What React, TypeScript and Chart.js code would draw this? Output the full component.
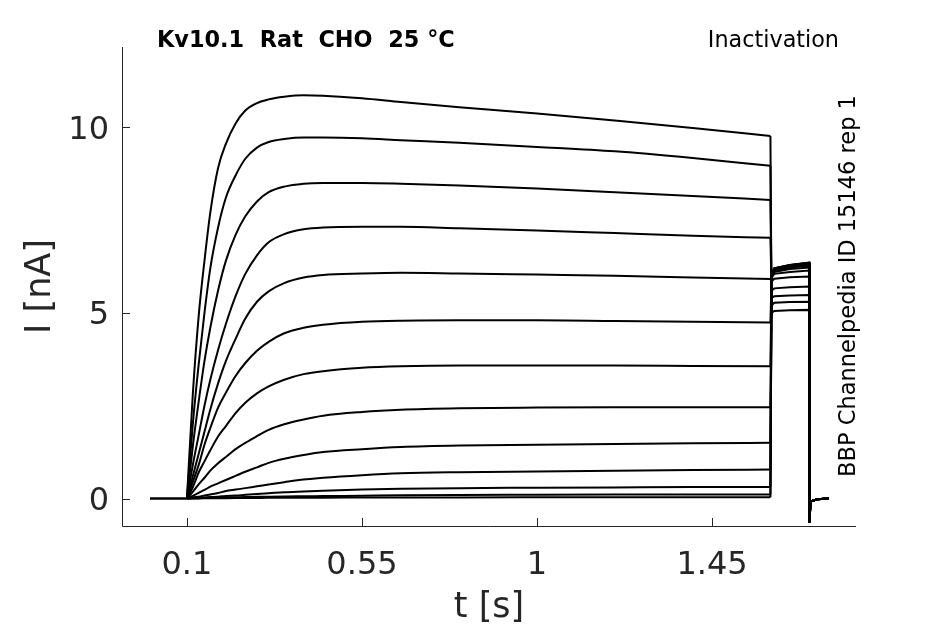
import { useEffect, useRef } from "react";
import { Chart, registerables } from "chart.js";

Chart.register(...registerables);

// holding level before the conditioning step
const holdTimes = [0.005, 0.1];
const holdCurrent = [0, 0];

// conditioning step, one row per sweep (nA)
const pulseTimes = [0.1, 0.115, 0.13, 0.145, 0.16, 0.18, 0.2, 0.225, 0.25, 0.28, 0.31, 0.35, 0.4, 0.45, 0.55, 0.65, 0.8, 1.0, 1.2, 1.4, 1.6];
const pulseCurrents = [
  [0, 2.8, 4.9, 6.4, 7.7, 8.9, 9.55, 10.1, 10.45, 10.65, 10.75, 10.82, 10.86, 10.85, 10.78, 10.68, 10.54, 10.37, 10.18, 9.98, 9.76],
  [0, 2.0, 3.6, 5.0, 6.2, 7.3, 8.1, 8.7, 9.15, 9.45, 9.6, 9.68, 9.72, 9.72, 9.7, 9.65, 9.58, 9.47, 9.35, 9.17, 8.96],
  [0, 1.4, 2.6, 3.7, 4.6, 5.6, 6.4, 7.1, 7.6, 8.0, 8.25, 8.4, 8.48, 8.5, 8.5, 8.48, 8.43, 8.35, 8.25, 8.15, 8.04],
  [0, 0.9, 1.7, 2.5, 3.2, 4.0, 4.7, 5.45, 6.05, 6.55, 6.9, 7.12, 7.25, 7.3, 7.32, 7.32, 7.28, 7.22, 7.15, 7.08, 7.02],
  [0, 0.6, 1.2, 1.8, 2.4, 3.1, 3.7, 4.3, 4.85, 5.3, 5.58, 5.8, 5.95, 6.02, 6.06, 6.08, 6.06, 6.03, 6.0, 5.95, 5.91],
  [0, 0.45, 0.9, 1.45, 1.9, 2.45, 2.85, 3.3, 3.65, 3.98, 4.22, 4.45, 4.6, 4.68, 4.76, 4.79, 4.8, 4.8, 4.78, 4.76, 4.74],
  [0, 0.3, 0.7, 1.0, 1.3, 1.67, 1.95, 2.3, 2.58, 2.83, 3.02, 3.2, 3.35, 3.43, 3.52, 3.56, 3.58, 3.58, 3.58, 3.57, 3.56],
  [0, 0.18, 0.38, 0.56, 0.75, 0.95, 1.12, 1.33, 1.5, 1.68, 1.85, 2.0, 2.13, 2.23, 2.33, 2.39, 2.43, 2.45, 2.46, 2.46, 2.46],
  [0, 0.07, 0.15, 0.23, 0.32, 0.41, 0.5, 0.61, 0.72, 0.84, 0.96, 1.07, 1.17, 1.25, 1.33, 1.39, 1.43, 1.45, 1.47, 1.49, 1.5],
  [0, 0.03, 0.05, 0.08, 0.11, 0.15, 0.2, 0.24, 0.28, 0.33, 0.38, 0.44, 0.51, 0.56, 0.63, 0.68, 0.71, 0.73, 0.75, 0.77, 0.78],
  [0, 0.01, 0.02, 0.03, 0.04, 0.05, 0.07, 0.08, 0.1, 0.12, 0.14, 0.17, 0.19, 0.21, 0.24, 0.26, 0.28, 0.29, 0.3, 0.31, 0.31],
  [0, 0.005, 0.01, 0.015, 0.02, 0.025, 0.03, 0.035, 0.04, 0.045, 0.05, 0.055, 0.06, 0.065, 0.075, 0.085, 0.095, 0.1, 0.105, 0.11, 0.11],
  [0, 0, 0.002, 0.004, 0.006, 0.008, 0.01, 0.012, 0.014, 0.016, 0.018, 0.02, 0.022, 0.024, 0.026, 0.028, 0.03, 0.032, 0.033, 0.034, 0.035],
];

// test pulse after the conditioning step (nA)
const tailTimes = [1.603, 1.61, 1.65, 1.7];
const tailCurrents = [
  [5.0, 5.05, 5.07, 5.08],
  [5.2, 5.27, 5.29, 5.3],
  [5.4, 5.45, 5.47, 5.48],
  [5.6, 5.66, 5.69, 5.71],
  [5.85, 5.92, 5.96, 5.98],
  [5.95, 6.05, 6.1, 6.14],
  [6.0, 6.1, 6.18, 6.22],
  [6.05, 6.15, 6.22, 6.27],
  [6.05, 6.17, 6.25, 6.3],
  [6.05, 6.18, 6.27, 6.32],
  [6.05, 6.2, 6.28, 6.34],
  [6.05, 6.2, 6.29, 6.35],
  [6.05, 6.2, 6.29, 6.35],
];

// return to holding
const offTimes = [1.7005, 1.703, 1.72, 1.75];
const offCurrent = [-0.65, -0.08, -0.02, 0];

const xTicks = [0.1, 0.55, 1, 1.45];
const yTicks = [0, 5, 10];

const FONT = "DejaVu Sans";
const AXIS_COLOR = "#262626";

const pts = (xs: number[], ys: number[]) => xs.map((x, i) => ({ x, y: ys[i] }));

const decorations = {
  id: "decorations",
  afterDraw(chart: any) {
    const { ctx, chartArea } = chart;
    const xs = chart.scales.x;
    const ys = chart.scales.y;
    ctx.save();
    ctx.strokeStyle = AXIS_COLOR;
    ctx.lineWidth = 1;
    ctx.beginPath();
    ctx.moveTo(chartArea.left + 0.5, chartArea.top);
    ctx.lineTo(chartArea.left + 0.5, chartArea.bottom + 0.5);
    ctx.lineTo(chartArea.right, chartArea.bottom + 0.5);
    for (const v of xTicks) {
      const px = Math.round(xs.getPixelForValue(v)) + 0.5;
      ctx.moveTo(px, chartArea.bottom);
      ctx.lineTo(px, chartArea.bottom - 8);
    }
    for (const v of yTicks) {
      const py = Math.round(ys.getPixelForValue(v)) + 0.5;
      ctx.moveTo(chartArea.left, py);
      ctx.lineTo(chartArea.left + 8, py);
    }
    ctx.stroke();

    ctx.fillStyle = "#000";
    ctx.textBaseline = "alphabetic";
    ctx.font = `bold 22.4px "${FONT}"`;
    ctx.textAlign = "left";
    ctx.fillText("Kv10.1  Rat  CHO  25 °C", 157, 47);
    ctx.font = `22.3px "${FONT}"`;
    ctx.textAlign = "right";
    ctx.fillText("Inactivation", 839, 46.5);

    ctx.save();
    ctx.font = `22.5px "${FONT}"`;
    ctx.translate(855, 286);
    ctx.rotate(-Math.PI / 2);
    ctx.textAlign = "center";
    ctx.fillText("BBP Channelpedia ID 15146 rep 1", 0, 0);
    ctx.restore();

    ctx.fillStyle = AXIS_COLOR;
    ctx.font = `35px "${FONT}"`;
    ctx.textAlign = "center";
    ctx.fillText("t [s]", (chartArea.left + chartArea.right) / 2, 617);
    ctx.save();
    ctx.translate(50, (chartArea.top + chartArea.bottom) / 2);
    ctx.rotate(-Math.PI / 2);
    ctx.fillText("I [nA]", 0, 0);
    ctx.restore();
    ctx.restore();
  },
};

export default function App() {
  const canvasRef = useRef<HTMLCanvasElement>(null);
  const chartRef = useRef<Chart | null>(null);

  useEffect(() => {
    document.body.style.margin = "0";
    if (!canvasRef.current) return;
    if (chartRef.current) chartRef.current.destroy();

    const line = { borderColor: "#000", borderWidth: 2, pointRadius: 0, fill: false };
    const datasets: any[] = [{ ...line, borderWidth: 2.5, data: pts(holdTimes, holdCurrent), tension: 0 }];
    pulseCurrents.forEach((row) => {
      datasets.push({ ...line, data: pts(pulseTimes, row), cubicInterpolationMode: "monotone" });
    });
    tailCurrents.forEach((row, i) => {
      const end = pulseCurrents[i][pulseCurrents[i].length - 1];
      datasets.push({
        ...line,
        tension: 0,
        data: [
          { x: pulseTimes[pulseTimes.length - 1], y: end },
          ...pts(tailTimes, row),
          ...pts(offTimes, offCurrent),
        ],
      });
    });

    chartRef.current = new Chart(canvasRef.current, {
      type: "line",
      data: { datasets },
      options: {
        animation: false,
        responsive: true,
        maintainAspectRatio: false,
        layout: { padding: { top: 47, right: 89, left: 0, bottom: 0 } },
        plugins: { legend: { display: false }, tooltip: { enabled: false } },
        scales: {
          x: {
            type: "linear",
            min: -0.067,
            max: 1.82,
            grid: { display: false, drawTicks: false },
            border: { display: false },
            afterBuildTicks: (s: any) => {
              s.ticks = xTicks.map((value) => ({ value }));
            },
            afterFit: (s: any) => {
              s.height = 98;
            },
            ticks: {
              color: AXIS_COLOR,
              font: { family: FONT, size: 32 },
              padding: 20,
              maxRotation: 0,
              autoSkip: false,
              callback: (v: any) => String(v),
            },
          },
          y: {
            type: "linear",
            min: -0.74,
            max: 12.16,
            grid: { display: false, drawTicks: false },
            border: { display: false },
            afterBuildTicks: (s: any) => {
              s.ticks = yTicks.map((value) => ({ value }));
            },
            afterFit: (s: any) => {
              s.width = 122;
            },
            ticks: {
              color: AXIS_COLOR,
              font: { family: FONT, size: 32 },
              padding: 13,
              labelOffset: 3,
              callback: (v: any) => String(v),
            },
          },
        },
      },
      plugins: [decorations],
    });

    return () => {
      if (chartRef.current) {
        chartRef.current.destroy();
        chartRef.current = null;
      }
    };
  }, []);

  return (
    <div style={{ width: 945, height: 624, position: "relative" }}>
      <canvas ref={canvasRef} />
    </div>
  );
}
